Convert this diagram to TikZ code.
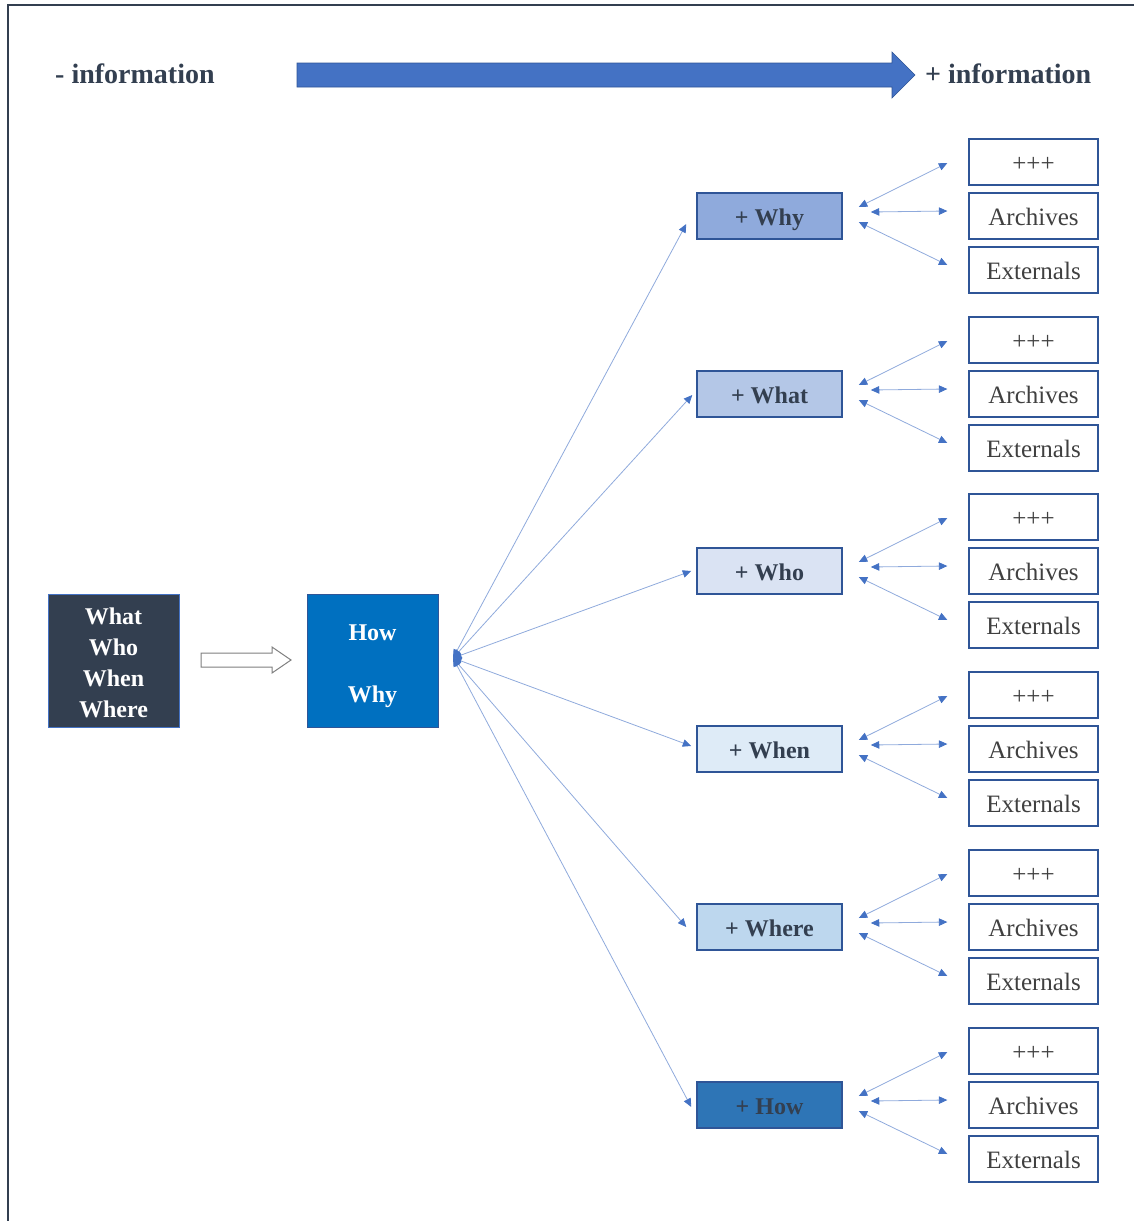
\documentclass[tikz,border=0pt]{standalone}
\usepackage{fontspec}
\setmainfont{Liberation Serif}
\usetikzlibrary{arrows.meta,calc}
\definecolor{frameink}{HTML}{333F50}
\definecolor{accent}{HTML}{4472C4}
\definecolor{edgeblue}{HTML}{2F5597}
\definecolor{linkline}{HTML}{8FAADC}
\definecolor{ink}{HTML}{333F50}
\definecolor{softink}{HTML}{404040}
\definecolor{fillwhy}{HTML}{8FAADC}
\definecolor{fillwhat}{HTML}{B4C7E7}
\definecolor{fillwho}{HTML}{DAE3F3}
\definecolor{fillwhen}{HTML}{DEEBF7}
\definecolor{fillwhere}{HTML}{BDD7EE}
\definecolor{fillhow}{HTML}{2E75B6}
\definecolor{howwhy}{HTML}{0070C0}
\definecolor{hollow}{HTML}{7F7F7F}

\tikzset{
  ctip/.tip={Triangle[length=8.5pt,width=7.5pt,color=accent]},
  headline/.style={font=\fontsize{28}{30}\selectfont\bfseries, text=ink, inner sep=0pt},
  bigbox/.style={rectangle, minimum width=131pt, minimum height=133pt, inner sep=0pt,
                 align=center, text=white, font=\fontsize{24}{31}\selectfont\bfseries},
  plusbox/.style={rectangle, draw=edgeblue, line width=1.5pt, minimum width=145pt,
                  minimum height=46pt, inner sep=0pt, text=ink,
                  text height=20pt, text depth=2pt,
                  font=\fontsize{24}{28}\selectfont\bfseries},
  sourcebox/.style={rectangle, draw=edgeblue, line width=1.3pt, fill=white,
                    minimum width=129pt, minimum height=46pt, inner sep=0pt,
                    text height=20pt, text depth=2pt,
                    text=softink, font=\fontsize{25}{28}\selectfont},
  hubline/.style={draw=linkline, line width=0.8pt, ctip-ctip},
  link/.style={draw=linkline, line width=0.8pt, ctip-ctip}
}

\begin{document}
\begin{tikzpicture}[x=1pt,y=-1pt]
\useasboundingbox (0,0) rectangle (1134,1221);

% frame edges
\draw[frameink, line width=2.5pt] (8,1221) -- (8,5) -- (1134,5);

% information scale
\node[headline, anchor=west] (less) at (55,74) {- information};
\node[headline, anchor=west] (more) at (925,74) {+ information};
\filldraw[fill=accent, draw=edgeblue, line width=0.6pt]
  (297,63) -- (892,63) -- (892,52) -- (915,75) -- (892,98) -- (892,87) -- (297,87) -- cycle;

% starting questions
\node[bigbox, fill=frameink, draw=accent, line width=0.8pt] (basic) at (113.5,660.5)
  {\rule{0pt}{22pt}What\\Who\\When\\Where};
\node[bigbox, fill=howwhy, draw=edgeblue, line width=0.8pt,
      font=\fontsize{24}{62}\selectfont\bfseries] (deep) at (372.5,660.5)
  {\rule{0pt}{28pt}How\\Why};

% hollow block arrow between the two boxes
\filldraw[fill=white, draw=hollow, line width=1pt]
  (201,653) -- (272,653) -- (272,647) -- (291,660) -- (272,673) -- (272,667) -- (201,667) -- cycle;

\coordinate (hub) at (453,658);

% six refinements, each with three sources
\foreach \n/\lab/\fc/\cy/\ex/\ey in {
    1/Why/fillwhy/216/-10/8,
    2/What/fillwhat/394/-4/1,
    3/Who/fillwho/571/-5/0,
    4/When/fillwhen/749/-5/-3,
    5/Where/fillwhere/927/-10/0,
    6/How/fillhow/1105/-5/2} {
  \node[plusbox, fill=\fc] (p\n) at (769.5,\cy) {+ \lab};
  \node[sourcebox] (ra\n) at (1033.5,\cy-54) {+++};
  \node[sourcebox] (rb\n) at (1033.5,\cy) {Archives};
  \node[sourcebox] (rc\n) at (1033.5,\cy+54) {Externals};
  \draw[hubline] (hub) -- ($(p\n.west)+(\ex,\ey)$);
  \draw[link] ($(p\n.east)+(16,-9)$) -- ($(ra\n.west)+(-21,1)$);
  \draw[link] ($(p\n.east)+(28,-4)$) -- ($(rb\n.west)+(-21,-5)$);
  \draw[link] ($(p\n.east)+(16,6)$) -- ($(rc\n.west)+(-21,-5)$);
}
\end{tikzpicture}
\end{document}
